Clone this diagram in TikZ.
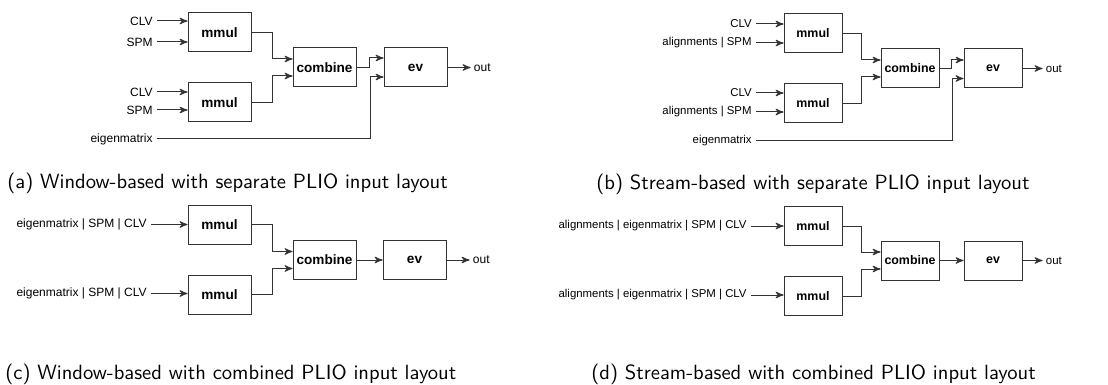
\documentclass[tikz,border=0pt]{standalone}
\usepackage{fontspec}
\newfontfamily\diafont{Liberation Sans}
\usepackage{tikz}
\usetikzlibrary{arrows,positioning,calc}

\begin{document}
\begin{tikzpicture}
	[ x=0.5pt, y=-0.5pt, node distance=15pt and 21pt,
		kernel/.style={rectangle,draw=black!80,line width=0.5pt,minimum width=31.5pt,minimum height=19.5pt,inner sep=0pt,font=\diafont\bfseries\fontsize{6.8}{8}\selectfont},
		kernelS/.style={kernel,minimum width=29pt,font=\diafont\bfseries\fontsize{6.2}{7.5}\selectfont},
		port/.style={inner sep=2pt,anchor=east,font=\diafont\fontsize{6}{7}\selectfont},
		portS/.style={port,font=\diafont\fontsize{5.7}{7}\selectfont},
		outport/.style={inner sep=1.5pt,font=\diafont\fontsize{6}{7}\selectfont},
		outportS/.style={outport,font=\diafont\fontsize{5.7}{7}\selectfont},
		wire/.style={->,>=stealth',line width=0.5pt,draw=black!80},
		subcap/.style={anchor=base west,inner sep=0pt,font=\sffamily\fontsize{10.3}{12}\selectfont}]

	\useasboundingbox (0,0) rectangle (1108,385);

	% (a) window-based, separate inputs
	\node[kernel] (a-mmul1) at (219.5,32.5) {mmul};
	\node[kernel] (a-mmul2) [below=of a-mmul1] {mmul};
	\node[kernel] (a-comb) at (324.5,67.5) {combine};
	\node[kernel] (a-ev) [right=13.5pt of a-comb] {ev};
	\node[outport] (a-out) [right=11.5pt of a-ev] {out};
	\node[port] (a-clv1) at (157,21) {CLV};
	\node[port] (a-spm1) at (157,42) {SPM};
	\node[port] (a-clv2) at (157,92) {CLV};
	\node[port] (a-spm2) at (157,110) {SPM};
	\node[port] (a-eig) at (157,139) {eigenmatrix};
	\foreach \p/\k in {clv1/mmul1,spm1/mmul1,clv2/mmul2,spm2/mmul2}
		\draw[wire] (a-\p.east) -- (a-\p.east -| a-\k.west);
	\draw[wire] (a-mmul1.east) -- ++(21,0) |- ($(a-comb.west)+(0,-8.5)$);
	\draw[wire] (a-mmul2.east) -- ++(21,0) |- ($(a-comb.west)+(0,8.5)$);
	\draw[wire] (a-comb.east) -- ++(13,0) |- ($(a-ev.west)+(0,-9.5)$);
	\draw[wire] (a-eig.east) -| ($(a-ev.west)+(-13,9.5)$) -- ($(a-ev.west)+(0,9.5)$);
	\draw[wire] (a-ev) -- (a-out);
	\node[subcap] (a-cap) at (7,188) {(a) Window-based with separate PLIO input layout};

	% (b) stream-based, separate inputs
	\node[kernelS] (b-mmul1) at (813,33.5) {mmul};
	\node[kernelS] (b-mmul2) [below=of b-mmul1] {mmul};
	\node[kernelS] (b-comb) at (910,68.5) {combine};
	\node[kernelS] (b-ev) [right=12pt of b-comb] {ev};
	\node[outportS] (b-out) [right=10pt of b-ev] {out};
	\node[portS] (b-clv1) at (756,24) {CLV};
	\node[portS] (b-spm1) at (756,43) {alignments | SPM};
	\node[portS] (b-clv2) at (756,93) {CLV};
	\node[portS] (b-spm2) at (756,112) {alignments | SPM};
	\node[portS] (b-eig) at (756,141) {eigenmatrix};
	\foreach \p/\k in {clv1/mmul1,spm1/mmul1,clv2/mmul2,spm2/mmul2}
		\draw[wire] (b-\p.east) -- (b-\p.east -| b-\k.west);
	\draw[wire] (b-mmul1.east) -- ++(19,0) |- ($(b-comb.west)+(0,-8.5)$);
	\draw[wire] (b-mmul2.east) -- ++(19,0) |- ($(b-comb.west)+(0,8.5)$);
	\draw[wire] (b-comb.east) -- ++(12,0) |- ($(b-ev.west)+(0,-8.5)$);
	\draw[wire] (b-eig.east) -| ($(b-ev.west)+(-11,10)$) -- ($(b-ev.west)+(0,10)$);
	\draw[wire] (b-ev) -- (b-out);
	\node[subcap] (b-cap) at (596,189) {(b) Stream-based with separate PLIO input layout};

	% (c) window-based, combined input
	\node[kernel] (c-mmul1) at (219.5,224.5) {mmul};
	\node[kernel] (c-mmul2) [below=of c-mmul1] {mmul};
	\node[kernel] (c-comb) at (324.5,260) {combine};
	\node[kernel] (c-ev) [right=13pt of c-comb] {ev};
	\node[outport] (c-out) [right=11.5pt of c-ev] {out};
	\node[port] (c-in1) at (151,224.5) {eigenmatrix | SPM | CLV};
	\node[port] (c-in2) at (151,293.5) {eigenmatrix | SPM | CLV};
	\draw[wire] (c-in1.east) -- (c-in1.east -| c-mmul1.west);
	\draw[wire] (c-in2.east) -- (c-in2.east -| c-mmul2.west);
	\draw[wire] (c-mmul1.east) -- ++(21,0) |- ($(c-comb.west)+(0,-8.5)$);
	\draw[wire] (c-mmul2.east) -- ++(21,0) |- ($(c-comb.west)+(0,8.5)$);
	\draw[wire] (c-comb) -- (c-ev);
	\draw[wire] (c-ev) -- (c-out);
	\node[subcap] (c-cap) at (5,379) {(c) Window-based with combined PLIO input layout};

	% (d) stream-based, combined input
	\node[kernelS] (d-mmul1) at (813,226) {mmul};
	\node[kernelS] (d-mmul2) [below=of d-mmul1] {mmul};
	\node[kernelS] (d-comb) at (910,260.5) {combine};
	\node[kernelS] (d-ev) [right=12pt of d-comb] {ev};
	\node[outportS] (d-out) [right=10pt of d-ev] {out};
	\node[portS] (d-in1) at (751,226) {alignments | eigenmatrix | SPM | CLV};
	\node[portS] (d-in2) at (751,295) {alignments | eigenmatrix | SPM | CLV};
	\draw[wire] (d-in1.east) -- (d-in1.east -| d-mmul1.west);
	\draw[wire] (d-in2.east) -- (d-in2.east -| d-mmul2.west);
	\draw[wire] (d-mmul1.east) -- ++(19,0) |- ($(d-comb.west)+(0,-8.5)$);
	\draw[wire] (d-mmul2.east) -- ++(19,0) |- ($(d-comb.west)+(0,8.5)$);
	\draw[wire] (d-comb) -- (d-ev);
	\draw[wire] (d-ev) -- (d-out);
	\node[subcap] (d-cap) at (591,379) {(d) Stream-based with combined PLIO input layout};
\end{tikzpicture}
\end{document}
